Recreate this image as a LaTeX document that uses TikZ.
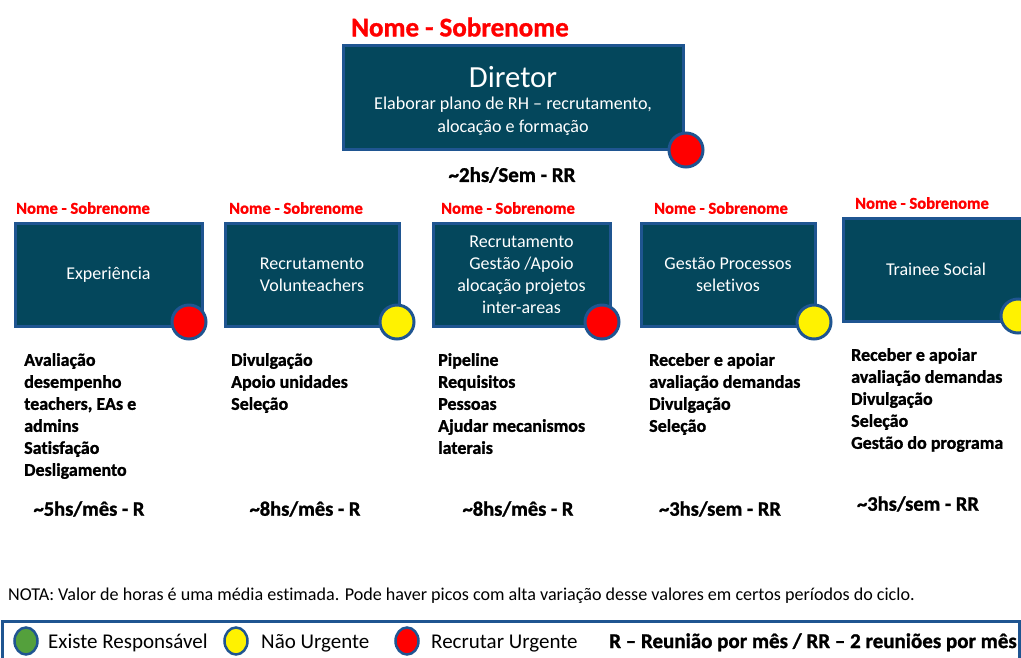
\documentclass[tikz,border=0pt]{standalone}
\usepackage{fontspec}
\setmainfont{Carlito}[Ligatures=NoCommon, BoldFeatures={FakeBold=1.2}]
\usetikzlibrary{shapes.geometric}
\definecolor{boxteal}{RGB}{4,71,92}
\definecolor{edgeblue}{RGB}{31,85,145}
\definecolor{okgreen}{RGB}{84,160,60}
\begin{document}
\begin{tikzpicture}[x=1pt,y=-1pt,
  role/.style={draw=edgeblue, line width=3pt, fill=boxteal, text=white,
    font=\fontsize{18}{22}\selectfont, align=center, inner sep=0pt},
  status/.style={circle, draw=edgeblue, line width=3pt, minimum size=34pt, inner sep=0pt},
  person/.style={text=red, font=\bfseries\fontsize{16.6}{19}\selectfont, inner sep=0pt},
  tasks/.style={font=\bfseries\fontsize{18}{22}\selectfont, align=left, anchor=north west, inner sep=0pt},
  hours/.style={font=\bfseries\fontsize{20.5}{24}\selectfont, inner sep=0pt},
  keydot/.style={ellipse, draw=edgeblue, line width=2.5pt, minimum width=23pt, minimum height=27pt, inner sep=0pt},
  keytext/.style={font=\fontsize{21}{24}\selectfont, anchor=base west, inner sep=0pt}
]
\useasboundingbox (0,0) rectangle (1021,657);

% director
\node[person, font=\bfseries\fontsize{27}{30}\selectfont] (dname) at (460,27) {Nome - Sobrenome};
\node[role, minimum width=340pt, minimum height=104pt] (dir) at (513,97) {};
\node[text=white, font=\fontsize{30.7}{34}\selectfont, inner sep=0pt] (dtitle) at (513,77) {Diretor};
\node[text=white, font=\fontsize{18.1}{23}\selectfont, align=center, inner sep=0pt] (dtask) at (513,116)
  {Elaborar plano de RH – recrutamento,\\alocação e formação};
\node[status, fill=red] (dst) at (686,150) {};
\node[hours, font=\bfseries\fontsize{21}{24}\selectfont] (dhrs) at (512,175) {\textasciitilde2hs/Sem - RR};

% area boxes
\node[role, minimum width=187pt, minimum height=103pt] (b1) at (108.5,274.5) {Experiência};
\node[role, minimum width=174pt, minimum height=103pt] (b2) at (312,274.5) {Recrutamento\\Volunteachers};
\node[role, minimum width=177pt, minimum height=103pt] (b3) at (521.5,274.5) {Recrutamento\\Gestão /Apoio\\alocação projetos\\inter-areas};
\node[role, minimum width=174pt, minimum height=103pt] (b4) at (728,274.5) {Gestão Processos\\seletivos};
\node[role, minimum width=186pt, minimum height=103pt] (b5) at (936,269.5) {Trainee Social};

% status markers
\node[status, fill=red]    (s1) at (189,322) {};
\node[status, fill=yellow] (s2) at (397,322) {};
\node[status, fill=red]    (s3) at (602,322) {};
\node[status, fill=yellow] (s4) at (814,322) {};
\node[status, fill=yellow] (s5) at (1018,316) {};

% names
\node[person] (n1) at (83,208) {Nome - Sobrenome};
\node[person] (n2) at (296,208) {Nome - Sobrenome};
\node[person] (n3) at (508,208) {Nome - Sobrenome};
\node[person] (n4) at (721,208) {Nome - Sobrenome};
\node[person] (n5) at (922,203) {Nome - Sobrenome};

% task lists
\node[tasks] (t1) at (24,353) {Avaliação\\desempenho\\teachers, EAs e\\admins\\Satisfação\\Desligamento};
\node[tasks] (t2) at (231,353) {Divulgação\\Apoio unidades\\Seleção};
\node[tasks] (t3) at (438,353) {Pipeline\\Requisitos\\Pessoas\\Ajudar mecanismos\\laterais};
\node[tasks] (t4) at (649,353) {Receber e apoiar\\avaliação demandas\\Divulgação\\Seleção};
\node[tasks] (t5) at (851,348) {Receber e apoiar\\avaliação demandas\\Divulgação\\Seleção\\Gestão do programa};

% hours
\node[hours] (h1) at (89,509) {\textasciitilde5hs/mês - R};
\node[hours] (h2) at (305,509) {\textasciitilde8hs/mês - R};
\node[hours] (h3) at (518,509) {\textasciitilde8hs/mês - R};
\node[hours] (h4) at (720,509) {\textasciitilde3hs/sem - RR};
\node[hours] (h5) at (918,504) {\textasciitilde3hs/sem - RR};

% note
\node[font=\fontsize{18.1}{20}\selectfont, anchor=base west, inner sep=0pt] (note) at (8,600)
  {NOTA: Valor de horas é uma média estimada. Pode haver picos com alta variação desse valores em certos períodos do ciclo.};

% legend
\draw[edgeblue, line width=3pt] (2,621) rectangle (1019,662);
\node[keydot, fill=okgreen] (k1) at (26,641) {};
\node[keytext] (l1) at (48,648) {Existe Responsável};
\node[keydot, fill=yellow] (k2) at (236,641) {};
\node[keytext] (l2) at (261,648) {Não Urgente};
\node[keydot, fill=red] (k3) at (407,641) {};
\node[keytext] (l3) at (431,648) {Recrutar Urgente};
\node[keytext, font=\bfseries\fontsize{21}{24}\selectfont] (l4) at (609,648) {R – Reunião por mês / RR – 2 reuniões por mês};
\end{tikzpicture}
\end{document}
